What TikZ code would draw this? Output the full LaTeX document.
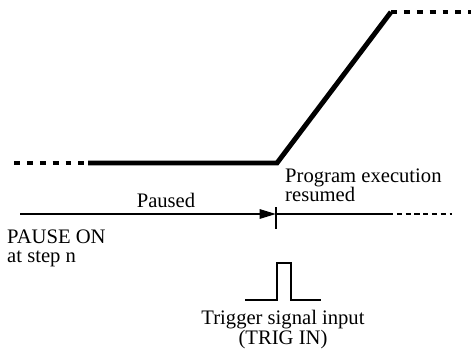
\documentclass[tikz,border=0pt]{standalone}
\usepackage{fontspec}
\setmainfont{Liberation Serif}
\usetikzlibrary{arrows.meta}

\begin{document}
\begin{tikzpicture}[x=0.03cm, y=-0.03cm,
    signal/.style={line width=4.2pt, line join=miter},
    signaldash/.style={line width=3.2pt, dash pattern=on 5pt off 6pt},
    timeline/.style={line width=1.1pt},
    label/.style={font=\fontsize{17.6}{16.6}\selectfont, inner sep=0pt}]
    \useasboundingbox (0,0) rectangle (471,356);
    % output level
    \coordinate (s0) at (14,163);
    \coordinate (s1) at (88,163);
    \coordinate (s2) at (277,163);
    \coordinate (s3) at (391,12);
    \coordinate (s4) at (471,12);
    \draw[signaldash] (s0) -- (s1);
    \draw[signal] (s1) -- (s2) -- (s3);
    \draw[signaldash] (s3) -- (s4);
    % time axis
    \coordinate (t0) at (20,214);
    \coordinate (t1) at (276,214);
    \coordinate (t2) at (388,214);
    \coordinate (t3) at (452,214);
    \coordinate (tk0) at (276,207);
    \coordinate (tk1) at (276,229);
    \draw[timeline, line width=1.6pt, -{Triangle[length=14pt, width=8pt]}] (t0) -- (t1);
    \draw[timeline] (tk0) -- (tk1);
    \draw[timeline] (t1) -- (t2);
    \draw[timeline, dash pattern=on 4.5pt off 3pt] (t2) -- (t3);
    % trigger pulse
    \coordinate (p0) at (245,300);
    \coordinate (p1) at (277,263);
    \coordinate (p2) at (291,300);
    \coordinate (p3) at (321,300);
    \draw[timeline] (p0) -| (p1) -| (p2) -- (p3);
    % labels
    \node[label] (paused) at (166,200) {Paused};
    \node[label, anchor=west, align=left] (resumed) at (285,185) {Program execution\\resumed};
    \node[label, anchor=west, align=left] (pauseon) at (7,248.5) {PAUSE ON\\at step n};
    \node[label, align=center] (trigin) at (283,329.5) {Trigger signal input\\(TRIG IN)};
\end{tikzpicture}
\end{document}
